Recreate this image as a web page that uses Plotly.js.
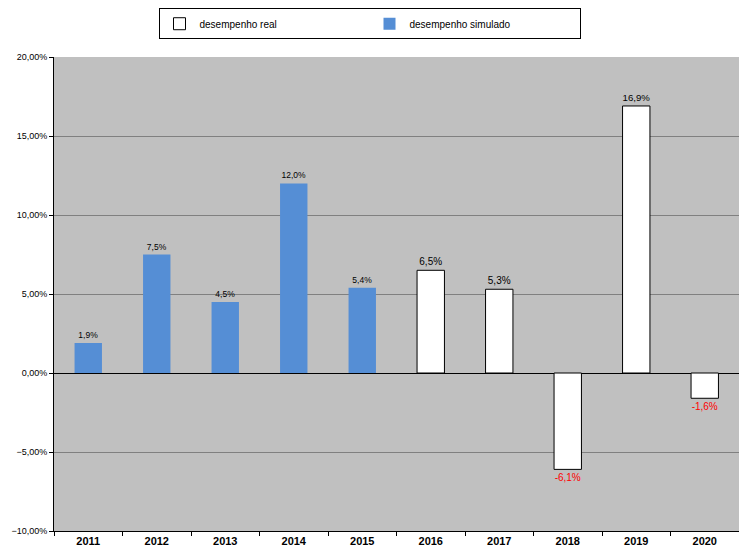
<!DOCTYPE html>
<html>
<head>
<meta charset="utf-8">
<script src="https://cdn.plot.ly/plotly-3.0.1.min.js"></script>
<style>body{margin:0;background:#fff}</style>
</head>
<body>
<div id="chart" style="width:739px;height:548px"></div>
<script>
// anos e desempenho
const anosSim = ["2011", "2012", "2013", "2014", "2015"];
const valSim = [0.019, 0.075, 0.045, 0.120, 0.054];
const anosReal = ["2016", "2017", "2018", "2019", "2020"];
const valReal = [0.065, 0.053, -0.061, 0.169, -0.016];

const fmt = (v) => (v * 100).toFixed(1).replace(".", ",") + "%";

var real = {
  x: anosReal,
  y: valReal,
  type: "bar",
  name: "desempenho real",
  width: 0.4,
  marker: { color: "#ffffff", line: { color: "#000000", width: 1 } },
  text: valReal.map(fmt),
  textposition: "outside",
  textfont: { size: 10, color: valReal.map((v) => (v < 0 ? "#ff0000" : "#000000")) },
  cliponaxis: false,
};

var sim = {
  x: anosSim,
  y: valSim,
  type: "bar",
  name: "desempenho simulado",
  width: 0.4,
  marker: { color: "#558ed5" },
  text: valSim.map(fmt),
  textposition: "outside",
  textfont: { size: 8.5, color: "#000000" },
  cliponaxis: false,
};

var layout = {
  width: 739,
  height: 548,
  margin: { l: 54, r: 0, t: 57, b: 17, autoexpand: false },
  paper_bgcolor: "#ffffff",
  plot_bgcolor: "#c0c0c0",
  separators: ",.",
  font: { family: "Liberation Sans, Arial", color: "#000000" },
  barmode: "overlay",
  showlegend: true,
  legend: {
    orientation: "h",
    x: 0.5,
    xref: "container",
    xanchor: "center",
    y: 0.985,
    yref: "container",
    yanchor: "top",
    bordercolor: "#000000",
    borderwidth: 1,
    font: { size: 10 },
    itemwidth: 30,
    entrywidth: 165,
    traceorder: "normal",
    tracegroupgap: 0,
  },
  xaxis: {
    type: "category",
    categoryorder: "array",
    categoryarray: anosSim.concat(anosReal),
    tickfont: { size: 11, weight: "bold" },
    showline: true,
    linecolor: "#000000",
    ticks: "outside",
    tickson: "boundaries",
    ticklen: 4,
    tickcolor: "#000000",
    showgrid: false,
  },
  yaxis: {
    range: [-0.1, 0.2],
    dtick: 0.05,
    tickformat: ".2%",
    tickfont: { size: 9 },
    showline: true,
    linecolor: "#000000",
    ticks: "outside",
    ticklen: 4,
    tickcolor: "#000000",
    gridcolor: "#808080",
    zeroline: true,
    zerolinecolor: "#000000",
    zerolinewidth: 1,
  },
};

Plotly.newPlot("chart", [real, sim], layout, { displayModeBar: false });
</script>
</body>
</html>
